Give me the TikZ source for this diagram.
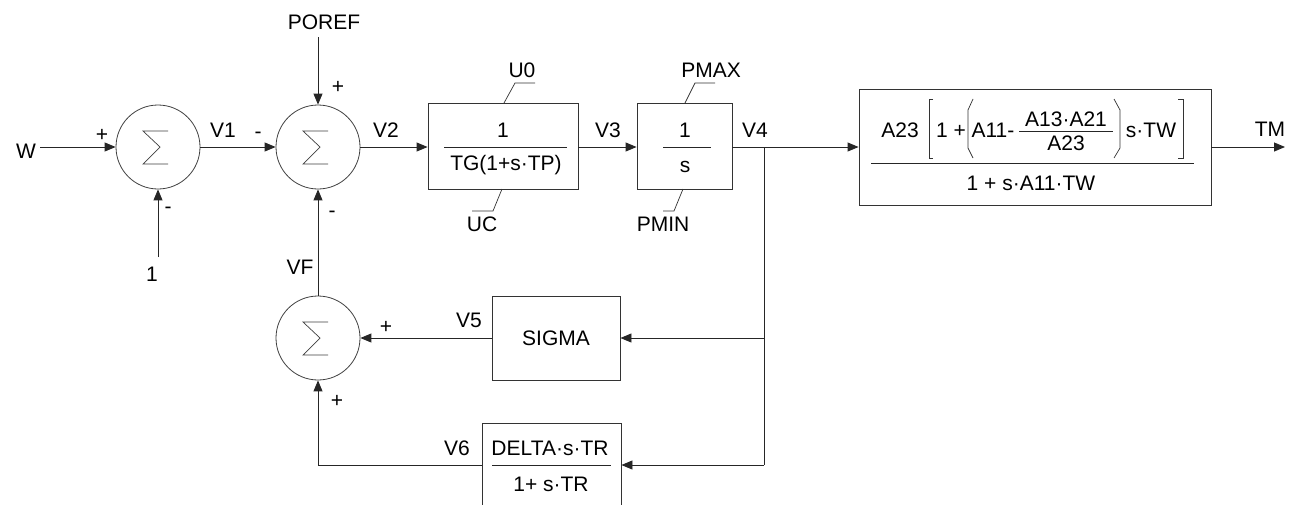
\documentclass[tikz,border=0pt]{standalone}
\usepackage{fontspec}
\setmainfont{Liberation Sans}
\usetikzlibrary{arrows.meta,calc}
\newcommand\sumsym[1]{\draw[sigline] ($(#1)+(10,-16)$) -- ($(#1)+(-15,-16)$) -- ($(#1)+(2,0)$) -- ($(#1)+(-15,17)$) -- ($(#1)+(10,17)$);}
\begin{document}
\begin{tikzpicture}[x=1pt,y=-1pt,
  every node/.style={font=\fontsize{21}{24}\selectfont, inner sep=0pt, text=black},
  wire/.style={draw=black!85, line width=0.9pt},
  arr/.style={wire, -{Triangle[length=11pt,width=9pt]}},
  sumnode/.style={circle, draw=black!75, line width=0.8pt, minimum size=84pt},
  blk/.style={draw=black!80, line width=0.9pt, rectangle},
  sigline/.style={draw=black!75, line width=0.7pt},
  thinline/.style={draw=black!80, line width=0.7pt},
  fracbar/.style={draw=black!85, line width=0.9pt}
]
\useasboundingbox[fill=white] (0,0) rectangle (1296,504);

% summing junctions
\node[sumnode] (s1) at (158,147) {};
\node[sumnode] (s2) at (318,147) {};
\node[sumnode] (s3) at (318,338) {};
\sumsym{s1}
\sumsym{s2}
\sumsym{s3}

% blocks
\node[blk, minimum width=150pt, minimum height=86pt] (tg) at (503,146) {};
\node[blk, minimum width=95pt, minimum height=86pt] (int) at (684.5,146) {};
\node[blk, minimum width=352pt, minimum height=116pt] (tw) at (1035,147) {};
\node[blk, minimum width=128pt, minimum height=84pt] (sig) at (556,338) {SIGMA};
\node[blk, minimum width=139pt, minimum height=82pt] (del) at (551.5,464) {};

% block contents
\node (tgn) at (503,130) {1};
\draw[fracbar] (444,147) -- (567,147);
\node (tgd) at (506,165) {TG(1+s·TP)};
\node (intn) at (685,130) {1};
\draw[fracbar] (663,147) -- (711,147);
\node (intd) at (685,167) {s};

\node (a23) at (900,130) {A23};
\draw[thinline] (933,99) -- (929,99) -- (929,158) -- (933,158);
\node (onep) at (951,130) {1 +};
\draw[thinline] (973,99) -- (968,110) -- (968,148) -- (973,158);
\node (a11) at (993,130) {A11-};
\node (a1321) at (1066,119) {A13·A21};
\draw[fracbar] (1019,131) -- (1113,131);
\node (a23b) at (1066,143) {A23};
\draw[thinline] (1114,99) -- (1120,110) -- (1120,148) -- (1114,158);
\node (stw) at (1151,130) {s·TW};
\draw[thinline] (1178,99) -- (1183,99) -- (1183,158) -- (1178,158);
\draw[fracbar] (871,163) -- (1194,163);
\node (twd) at (1031,183) {1 + s·A11·TW};

\node (deln) at (550,448) {DELTA·s·TR};
\draw[fracbar] (492,465) -- (611,465);
\node (deld) at (551,484) {1+ s·TR};

% limit labels and leaders
\node (u0) at (522,70) {U0};
\draw[thinline] (535,83) -- (515,83) -- (504,103);
\node (uc) at (482,224) {UC};
\draw[thinline] (502,189) -- (493,211) -- (472,211);
\node (pmax) at (711,70) {PMAX};
\draw[thinline] (715,83) -- (695,83) -- (685,103);
\node (pmin) at (663,224) {PMIN};
\draw[thinline] (683,189) -- (674,211) -- (663,211);

% inputs / outputs
\node (w) at (26,151) {W};
\coordinate (wend) at (40,147);
\node (one) at (152,274) {1};
\coordinate (oneend) at (158,257);
\node (poref) at (324,22) {POREF};
\coordinate (porefend) at (318,37);
\node (tm) at (1270,129) {TM};
\coordinate (tmend) at (1285,147);
\coordinate (j) at (764,147);
\coordinate (j5) at (764,338);
\coordinate (j6) at (764,465);
\coordinate (c6) at (318,465);

% connectors
\draw[arr] (wend) -- (s1.west);
\draw[arr] (oneend) -- (s1.south);
\draw[arr] (s1.east) -- (s2.west);
\draw[arr] (porefend) -- (s2.north);
\draw[arr] (s2.east) -- (tg.west |- s2.east);
\draw[arr] (tg.east |- s2.east) -- (int.west |- s2.east);
\draw[arr] (int.east |- s2.east) -- (tw.west |- s2.east);
\draw[arr] (tw.east |- s2.east) -- (tmend);
\draw[wire] (j) -- (j6);
\draw[arr] (j5) -- (sig.east);
\draw[arr] (j6) -- (del.east |- j6);
\draw[arr] (sig.west) -- (s3.east);
\draw[wire] (del.west |- j6) -- (c6);
\draw[arr] (c6) -- (s3.south);
\draw[arr] (s3.north) -- (s2.south);

% signs and signal names
\node (p1) at (102,135) {+};
\node (m1) at (168,210) {-};
\node (v1) at (223,130) {V1};
\node (m2) at (258,135) {-};
\node (p2) at (338,87) {+};
\node (m3) at (332,214) {-};
\node (v2) at (386,130) {V2};
\node (v3) at (608,130) {V3};
\node (v4) at (755,130) {V4};
\node (vf) at (300,267) {VF};
\node (p3) at (386,327) {+};
\node (v5) at (469,320) {V5};
\node (p4) at (337,401) {+};
\node (v6) at (457,448) {V6};
\end{tikzpicture}
\end{document}
